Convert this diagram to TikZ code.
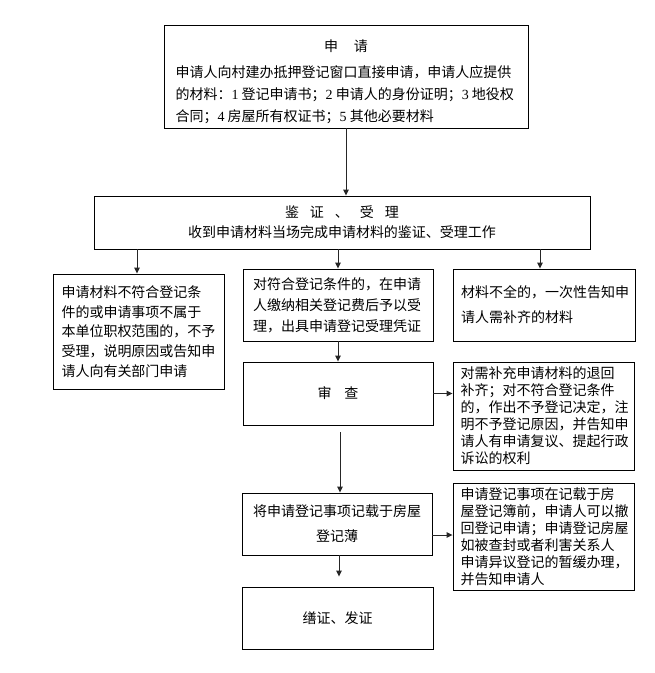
\documentclass[tikz,border=0pt]{standalone}
\usepackage{fontspec}
\setmainfont{Noto Sans CJK SC}
\newfontfamily\tnr{Liberation Serif}
\usetikzlibrary{arrows.meta}
\tikzset{
  x=1pt, y=-1pt,
  box/.style={draw=black, line width=0.9pt, inner sep=0pt, align=left,
    font=\fontsize{14}{21}\selectfont},
  txt/.style={inner sep=0pt, align=left, font=\fontsize{14}{22}\selectfont},
  arr/.style={draw=black!85, line width=0.9pt, -{Triangle[length=6pt,width=5.5pt]}},
}
\begin{document}
\begin{tikzpicture}
\useasboundingbox[fill=white] (0,0) rectangle (655,673);

\node[box, minimum width=364pt, minimum height=103pt] (b1) at (346,76.5) {};
\node[txt] (b1t) at (346,82)
  {\makebox[341pt]{申\hspace{16pt}请}\\[4pt]
   申请人向村建办抵押登记窗口直接申请，申请人应提供\\
   的材料：{\tnr 1} 登记申请书；{\tnr 2} 申请人的身份证明；{\tnr 3} 地役权\\
   合同；{\tnr 4} 房屋所有权证书；{\tnr 5} 其他必要材料};

\node[box, minimum width=496pt, minimum height=53pt, align=center,
  font=\fontsize{14}{20}\selectfont] (b2) at (342,222.5)
  {鉴\hspace{11pt}证\hspace{11pt}、\hspace{11pt}受\hspace{11pt}理\\
   收到申请材料当场完成申请材料的鉴证、受理工作};

\node[box, minimum width=171pt, minimum height=115pt, text width=154pt,
  font=\fontsize{14}{19.7}\selectfont] (bL) at (138.5,331.5)
  {申请材料不符合登记条\\
   件的或申请事项不属于\\
   本单位职权范围的，不予\\
   受理，说明原因或告知申\\
   请人向有关部门申请};

\node[box, minimum width=190pt, minimum height=72pt, text width=170pt] (bM) at (338,305)
  {对符合登记条件的，在申请\\
   人缴纳相关登记费后予以受\\
   理，出具申请登记受理凭证};

\node[box, minimum width=182pt, minimum height=72pt, text width=166pt,
  font=\fontsize{14}{25}\selectfont] (bR) at (544,305)
  {材料不全的，一次性告知申\\
   请人需补齐的材料};

\node[box, minimum width=190pt, minimum height=63pt, align=center] (bS) at (338,393.5)
  {审\hspace{13pt}查};

\node[box, minimum width=181pt, minimum height=108pt, text width=166pt,
  font=\fontsize{14}{17}\selectfont] (bS2) at (543.5,416)
  {对需补充申请材料的退回\\
   补齐；对不符合登记条件\\
   的，作出不予登记决定，注\\
   明不予登记原因，并告知申\\
   请人有申请复议、提起行政\\
   诉讼的权利};

\node[box, minimum width=190pt, minimum height=62pt, align=center,
  font=\fontsize{14}{25}\selectfont] (bJ) at (337,524)
  {将申请登记事项记载于房屋\\
   登记薄};

\node[box, minimum width=181pt, minimum height=107pt, text width=166pt,
  font=\fontsize{14}{17}\selectfont] (bJ2) at (543.5,536.5)
  {申请登记事项在记载于房\\
   屋登记簿前，申请人可以撤\\
   回登记申请；申请登记房屋\\
   如被查封或者利害关系人\\
   申请异议登记的暂缓办理，\\
   并告知申请人};

\node[box, minimum width=191pt, minimum height=62pt, align=center] (bF) at (337.5,618)
  {缮证、发证};

% connectors
\draw[arr] (b1.south) -- (b1.south |- b2.north);
\draw[arr] ([xshift=-1.5pt]bL.north |- b2.south) -- ([xshift=-1.5pt]bL.north);
\draw[arr] (bM.north |- b2.south) -- (bM.north);
\draw[arr] ([xshift=-4pt]bR.north |- b2.south) -- ([xshift=-4pt]bR.north);
\draw[arr] (bM.south) -- (bS.north);
\draw[arr, shorten <=7pt] ([xshift=2pt]bS.south) -- ([xshift=2pt]bS.south |- bJ.north);
\draw[arr, shorten >=10pt] ([xshift=2pt]bJ.south) -- ([xshift=2pt]bJ.south |- bF.north);
\draw[arr] (bS.east) -- (bS.east -| bS2.west);
\coordinate (jE) at ([yshift=-11pt]bJ.east);
\draw[arr] (jE) -- (jE -| bJ2.west);
\end{tikzpicture}
\end{document}
